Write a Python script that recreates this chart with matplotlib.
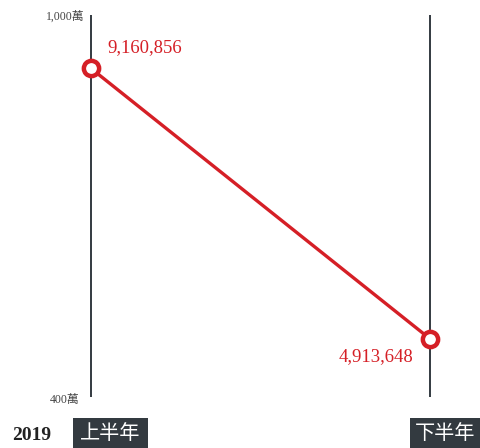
import matplotlib.pyplot as plt
from matplotlib.patches import Rectangle

# half-year totals for 2019
year = "2019"
periods = ["上半年", "下半年"]
values = [9160856, 4913648]
value_labels = ["9,160,856", "4,913,648"]
y_min, y_max = 4000000, 10000000
y_tick_labels = ["400萬", "1,000萬"]

red = "#d51f26"
dark = "#333a40"
fonts = ["Liberation Serif", "Noto Sans CJK TC"]

W, H = 480, 448
fig = plt.figure(figsize=(W / 100, H / 100), dpi=100)
ax = fig.add_axes([91 / W, 51 / H, 339 / W, 382 / H])
ax.set_xlim(0, 1)
ax.set_ylim(y_min, y_max)
ax.axis("off")

xs = list(range(len(periods)))

# vertical axis for each period
for x in xs:
    ax.plot([x, x], [y_min, y_max], color=dark, lw=1.4, solid_capstyle="butt", zorder=1,
            clip_on=False)

ax.plot(xs, values, color=red, lw=2.4, zorder=2, clip_on=False)
ax.plot(xs, values, "o", ms=11, mfc="white", mec=red, mew=3.2, zorder=3, clip_on=False)

# value labels
ax.annotate(value_labels[0], (xs[0], values[0]), xytext=(12, 15), textcoords="offset points",
            ha="left", va="center", color=red, fontsize=13.5, family=fonts)
ax.annotate(value_labels[1], (xs[1], values[1]), xytext=(-12, -13), textcoords="offset points",
            ha="right", va="center", color=red, fontsize=13.5, family=fonts)

# scale labels on the left axis
ax.annotate(y_tick_labels[1], (0, y_max), xytext=(-5, -1), textcoords="offset points",
            ha="right", va="center", color="#444444", fontsize=8.5, family=fonts)
ax.annotate(y_tick_labels[0], (0, y_min), xytext=(-8, -2), textcoords="offset points",
            ha="right", va="center", color="#444444", fontsize=8.5, family=fonts)

# period tags under each axis
tags = [(73, 148), (410, 480)]
for (x0, x1), label in zip(tags, periods):
    fig.patches.append(Rectangle((x0 / W, 0), (x1 - x0) / W, 30 / H,
                                 transform=fig.transFigure, fc=dark, ec="none"))
    fig.text((x0 + x1) / 2 / W, 15 / H, label, ha="center", va="center", color="white",
             fontsize=14.5, family=["Noto Sans CJK TC"])

fig.text(12 / W, 1 - 435 / H, year, ha="left", va="center", color="#222222",
         fontsize=14, fontweight="bold", family=fonts)

fig.savefig("out.png", dpi=100)
